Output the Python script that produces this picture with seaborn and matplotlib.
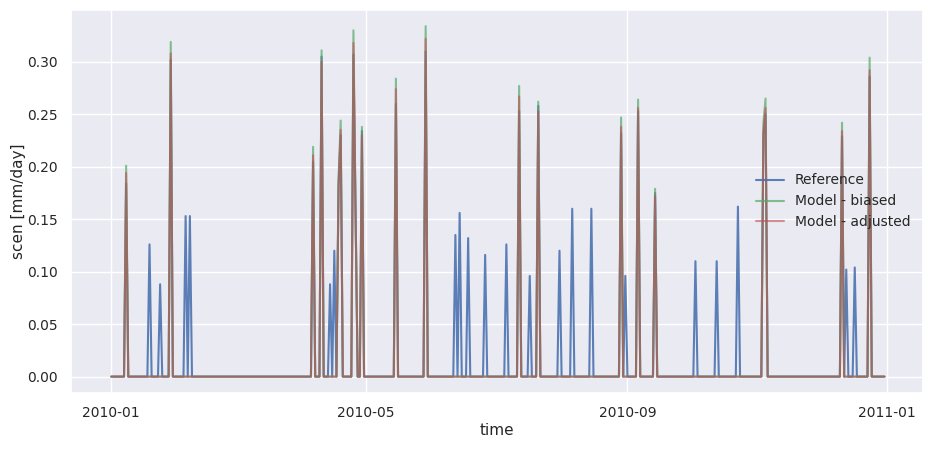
import numpy as np
import pandas as pd
import seaborn as sns
import matplotlib.pyplot as plt
import matplotlib.dates as mdates

# days where all three series have rain
wet_days = ["2010-01-08", "2010-01-29", "2010-04-06", "2010-04-10", "2010-04-18",
            "2010-04-19", "2010-04-25", "2010-04-26", "2010-04-29", "2010-05-15",
            "2010-05-29", "2010-07-12", "2010-07-21", "2010-08-29", "2010-09-06",
            "2010-09-14", "2010-11-04", "2010-11-05", "2010-12-11", "2010-12-24"]
ref_wet = [0.184, 0.302, 0.205, 0.305, 0.180, 0.230, 0.307, 0.150, 0.234, 0.260,
           0.310, 0.253, 0.258, 0.232, 0.253, 0.175, 0.230, 0.250, 0.229, 0.286]
sim_wet = [0.201, 0.319, 0.219, 0.311, 0.190, 0.244, 0.330, 0.160, 0.238, 0.284,
           0.334, 0.277, 0.262, 0.247, 0.264, 0.179, 0.242, 0.265, 0.242, 0.304]
scen_wet = [0.194, 0.308, 0.211, 0.300, 0.185, 0.235, 0.318, 0.155, 0.230, 0.274,
            0.322, 0.267, 0.253, 0.238, 0.256, 0.172, 0.235, 0.256, 0.234, 0.292]

# days where only the reference has rain
ref_only_days = ["2010-01-19", "2010-01-24", "2010-02-05", "2010-02-07", "2010-04-14",
                 "2010-04-16", "2010-06-12", "2010-06-14", "2010-06-18", "2010-06-26",
                 "2010-07-06", "2010-07-17", "2010-07-31", "2010-08-06", "2010-08-15",
                 "2010-08-31", "2010-10-03", "2010-10-13", "2010-10-23", "2010-12-13",
                 "2010-12-17"]
ref_only_vals = [0.126, 0.088, 0.153, 0.153, 0.088, 0.120, 0.135, 0.156, 0.132, 0.116,
                 0.126, 0.096, 0.120, 0.160, 0.160, 0.096, 0.110, 0.110, 0.162, 0.102,
                 0.104]

time = pd.date_range("2010-01-01", "2010-12-31", freq="D")

ref = pd.Series(0.0, index=time)
sim = pd.Series(0.0, index=time)
scen = pd.Series(0.0, index=time)
ref[pd.to_datetime(wet_days)] = ref_wet
ref[pd.to_datetime(ref_only_days)] = ref_only_vals
sim[pd.to_datetime(wet_days)] = sim_wet
scen[pd.to_datetime(wet_days)] = scen_wet

sns.set_theme(style="darkgrid", color_codes=True,
              rc={"font.size": 10, "axes.labelsize": 11, "xtick.labelsize": 10,
                  "ytick.labelsize": 10, "legend.fontsize": 10})

fig, ax = plt.subplots(figsize=(9.33, 4.49), dpi=100)
sns.lineplot(x=time, y=ref.values, ax=ax, color="b", alpha=0.9, linewidth=1.5, label="Reference")
sns.lineplot(x=time, y=sim.values, ax=ax, color="g", alpha=0.7, linewidth=1.5, label="Model - biased")
sns.lineplot(x=time, y=scen.values, ax=ax, color="r", alpha=0.6, linewidth=1.5, label="Model - adjusted")

ax.xaxis.set_major_locator(mdates.MonthLocator(bymonth=[1, 5, 9]))
ax.xaxis.set_major_formatter(mdates.DateFormatter("%Y-%m"))
ax.set_xlim(pd.Timestamp("2009-12-13"), pd.Timestamp("2011-01-18"))
ax.set_yticks(np.arange(0, 0.31, 0.05))
ax.set_ylim(-0.0155, 0.3495)
ax.set_xlabel("time", labelpad=2)
ax.set_ylabel("scen [mm/day]", labelpad=1)
ax.legend(loc="center right", frameon=False)

fig.subplots_adjust(left=0.076, right=0.989, top=0.978, bottom=0.125)
fig.savefig("out.png", dpi=100)
